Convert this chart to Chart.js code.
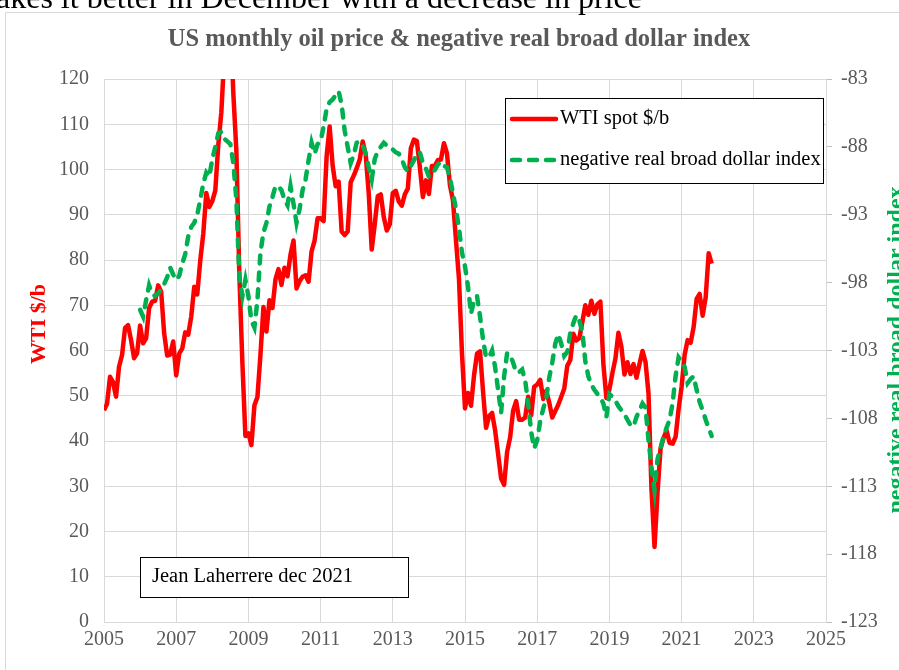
<!DOCTYPE html>
<html>
<head>
<meta charset="utf-8">
<script src="https://cdn.jsdelivr.net/npm/chart.js@4.4.1/dist/chart.umd.min.js"></script>
<style>
  html, body { margin: 0; padding: 0; background: #fff; }
  canvas { display: block; }
</style>
</head>
<body>
<canvas id="oilChart" width="899" height="670"></canvas>
<script>
// WTI spot, monthly average $/b, Jan 2005 .. Nov 2021
const wtiStart = 2005;
const wtiPrice = [
  46.8, 48.2, 54.2, 53.0, 49.8, 56.4, 59.0, 65.0, 65.6, 62.3, 58.3, 59.4,
  65.5, 61.6, 62.7, 69.4, 70.8, 71.0, 74.4, 73.0, 63.8, 58.9, 59.1, 62.0,
  54.5, 59.3, 60.4, 64.0, 63.5, 67.5, 74.1, 72.4, 79.9, 85.8, 94.8, 91.7,
  93.0, 95.4, 105.5, 112.6, 125.4, 133.9, 133.4, 116.7, 104.1, 76.6, 57.3, 41.1,
  41.7, 39.1, 47.9, 49.7, 59.0, 69.6, 64.2, 71.1, 69.4, 75.7, 78.0, 74.5,
  78.3, 76.4, 81.2, 84.3, 73.7, 75.3, 76.3, 76.6, 75.2, 81.9, 84.3, 89.2,
  89.2, 88.6, 102.9, 109.5, 100.9, 96.3, 97.3, 86.3, 85.5, 86.3, 97.2, 98.6,
  100.3, 102.2, 106.2, 103.3, 94.7, 82.3, 87.9, 94.1, 94.5, 89.5, 86.5, 87.9,
  94.8, 95.3, 92.9, 92.0, 94.5, 95.8, 104.7, 106.6, 106.3, 100.5, 93.9, 97.6,
  94.6, 100.8, 100.8, 102.1, 102.2, 105.8, 103.6, 96.5, 93.2, 84.4, 75.8, 59.3,
  47.2, 50.6, 47.8, 54.5, 59.3, 59.8, 50.9, 42.9, 45.5, 46.2, 42.4, 37.2,
  31.7, 30.3, 37.6, 40.8, 46.7, 48.8, 44.7, 44.7, 45.2, 49.8, 45.7, 52.0,
  52.5, 53.5, 49.3, 51.1, 48.5, 45.2, 46.6, 48.0, 49.8, 51.6, 56.6, 57.9,
  63.7, 62.2, 62.7, 66.3, 70.0, 67.9, 71.0, 68.1, 70.2, 70.8, 57.0, 49.5,
  51.4, 55.0, 58.2, 63.9, 60.8, 54.7, 57.4, 54.8, 57.0, 54.0, 57.0, 59.9,
  57.5, 50.5, 29.2, 16.6, 28.6, 38.3, 40.7, 42.3, 39.6, 39.4, 40.9, 47.0,
  52.0, 59.0, 62.3, 61.7, 65.2, 71.4, 72.5, 67.7, 71.7, 81.5, 79.2
];

// negative real broad dollar index, monthly, Jan 2006 .. Nov 2021
const dollarStart = 2006;
const negDollarIndex = [
  -100.0, -100.5, -99.3, -98.2, -98.8, -99.0, -98.8, -98.5, -98.1, -97.6, -96.9, -97.4,
  -97.8, -97.5, -96.6, -95.9, -94.6, -93.9, -93.6, -93.0, -91.9, -90.7, -89.9, -90.2,
  -88.9, -88.0, -87.0, -86.9, -87.4, -87.6, -87.8, -89.2, -91.9, -97.6, -99.0, -97.8,
  -99.0, -100.8, -101.3, -99.3, -95.8, -94.3, -93.6, -92.4, -91.7, -90.9, -90.9, -91.2,
  -91.9, -92.3, -90.9, -92.2, -93.6, -92.6, -91.2, -90.4, -89.0, -87.7, -88.5, -87.8,
  -87.6, -86.5, -85.2, -84.7, -84.5, -84.2, -83.9, -84.9, -86.8, -88.0, -89.2, -88.6,
  -87.7, -87.6, -87.9, -88.5, -89.5, -90.4, -88.9, -88.3, -88.0, -87.7, -87.9, -88.1,
  -88.2, -88.4, -88.5, -88.9, -89.5, -89.8, -89.4, -89.0, -88.5, -88.4, -89.2, -89.6,
  -90.2, -89.9, -89.7, -89.3, -89.1, -89.4, -89.5, -90.3, -91.4, -92.6, -94.0, -95.8,
  -96.8, -98.3, -100.3, -99.3, -99.0, -100.5, -102.2, -103.5, -103.5, -103.0, -104.2, -105.9,
  -107.6, -104.9, -103.2, -103.3, -103.9, -104.6, -104.6, -104.4, -105.2, -106.9, -109.0, -110.2,
  -109.6, -108.2, -107.3, -106.5, -105.0, -103.9, -102.5, -101.8, -102.5, -103.4, -103.1, -101.7,
  -101.0, -100.4, -100.8, -101.6, -103.8, -104.9, -105.5, -105.9, -106.2, -106.5, -106.9, -107.9,
  -106.2, -106.4, -106.7, -107.1, -107.4, -107.7, -108.1, -108.5, -108.6, -107.9, -107.4, -106.9,
  -107.2, -109.6, -111.6, -113.3, -111.0, -110.2, -109.3, -108.7, -108.1, -106.9, -104.9, -103.5,
  -103.8, -104.2, -105.4, -105.1, -104.9, -105.9, -106.8, -107.4, -108.1, -108.7, -109.3
];

const xRange = [2005, 2025];
const xStep = 2;
const leftRange = [0, 120];
const leftStep = 10;
const rightRange = [-123, -83];
const rightStep = 5;

const seriesNames = ['WTI spot $/b', 'negative real broad dollar index'];
const chartTitle = 'US monthly oil price & negative real broad dollar index';
const leftTitle = 'WTI $/b';
const rightTitle = 'negative real broad dollar index';
const noteText = 'Jean Laherrere dec 2021';
const pageText = 'akes it better in December with a decrease in price';

const RED = '#ff0000';
const GREEN = '#00b050';
const GREY = '#595959';
const GRID = '#d9d9d9';
const SERIF = '"Liberation Serif", "Times New Roman", serif';

function monthly(start, values) {
  return values.map((v, i) => ({ x: start + i / 12, y: v }));
}

const decor = {
  id: 'decor',
  beforeDraw(chart) {
    const ctx = chart.ctx;
    ctx.save();
    ctx.fillStyle = '#fff';
    ctx.fillRect(0, 0, chart.width, chart.height);
    // frame of the pasted chart
    ctx.strokeStyle = GRID;
    ctx.lineWidth = 1;
    ctx.beginPath();
    ctx.moveTo(5.5, chart.height);
    ctx.lineTo(5.5, 12.5);
    ctx.lineTo(chart.width, 12.5);
    ctx.stroke();
    // cut-off text of the page above
    ctx.fillStyle = '#000';
    ctx.font = '32px ' + SERIF;
    ctx.textBaseline = 'alphabetic';
    ctx.textAlign = 'left';
    ctx.fillText(pageText, -4, 8);
    ctx.restore();
  },
  afterDraw(chart) {
    const ctx = chart.ctx;
    ctx.save();
    // title
    ctx.fillStyle = GREY;
    ctx.font = 'bold 24.5px ' + SERIF;
    ctx.textAlign = 'center';
    ctx.textBaseline = 'middle';
    ctx.fillText(chartTitle, 459, 40);

    // axis titles
    ctx.font = 'bold 22px ' + SERIF;
    ctx.fillStyle = RED;
    ctx.save();
    ctx.translate(39, 324);
    ctx.rotate(-Math.PI / 2);
    ctx.fillText(leftTitle, 0, 0);
    ctx.restore();
    ctx.font = 'bold 24px ' + SERIF;
    ctx.fillStyle = GREEN;
    ctx.save();
    ctx.translate(897, 350);
    ctx.rotate(-Math.PI / 2);
    ctx.fillText(rightTitle, 0, 0);
    ctx.restore();

    // legend box
    ctx.fillStyle = '#fff';
    ctx.fillRect(505, 98, 318, 85);
    ctx.strokeStyle = '#000';
    ctx.lineWidth = 1;
    ctx.strokeRect(505.5, 98.5, 318, 85);
    ctx.lineCap = 'round';
    ctx.lineWidth = 4.5;
    ctx.strokeStyle = RED;
    ctx.beginPath();
    ctx.moveTo(512, 119);
    ctx.lineTo(556, 119);
    ctx.stroke();
    ctx.strokeStyle = GREEN;
    ctx.setLineDash([8, 9]);
    ctx.beginPath();
    ctx.moveTo(512, 160);
    ctx.lineTo(556, 160);
    ctx.stroke();
    ctx.setLineDash([]);
    ctx.fillStyle = '#000';
    ctx.font = '20.5px ' + SERIF;
    ctx.textAlign = 'left';
    ctx.fillText(seriesNames[0], 560, 119);
    ctx.fillText(seriesNames[1], 560, 160);

    // note box
    ctx.fillStyle = '#fff';
    ctx.fillRect(140, 557, 268, 40);
    ctx.lineWidth = 1;
    ctx.strokeStyle = '#000';
    ctx.strokeRect(140.5, 557.5, 268, 40);
    ctx.fillStyle = '#000';
    ctx.fillText(noteText, 152, 577);
    ctx.restore();
  }
};

const tickFont = { family: SERIF, size: 20 };

new Chart(document.getElementById('oilChart'), {
  type: 'line',
  data: {
    datasets: [
      {
        label: seriesNames[0],
        data: monthly(wtiStart, wtiPrice),
        yAxisID: 'y',
        borderColor: RED,
        backgroundColor: RED,
        borderWidth: 4.5,
        pointRadius: 0,
        tension: 0,
        borderJoinStyle: 'round',
        order: 1
      },
      {
        label: seriesNames[1],
        data: monthly(dollarStart, negDollarIndex),
        yAxisID: 'y2',
        borderColor: GREEN,
        backgroundColor: GREEN,
        borderWidth: 4.5,
        borderDash: [8, 9],
        borderCapStyle: 'round',
        pointRadius: 0,
        tension: 0,
        order: 0
      }
    ]
  },
  options: {
    responsive: false,
    animation: false,
    devicePixelRatio: 1,
    layout: { padding: { top: 79, left: 0, right: 0, bottom: 0 } },
    plugins: {
      legend: { display: false },
      title: { display: false },
      tooltip: { enabled: false }
    },
    scales: {
      x: {
        type: 'linear',
        min: xRange[0],
        max: xRange[1],
        afterFit: s => { s.height = 48; },
        ticks: {
          stepSize: xStep,
          color: GREY,
          font: tickFont,
          padding: 6,
          maxRotation: 0,
          callback: v => String(v)
        },
        grid: { color: GRID, lineWidth: 1, drawTicks: false },
        border: { color: GRID }
      },
      y: {
        position: 'left',
        min: leftRange[0],
        max: leftRange[1],
        afterFit: s => { s.width = 104; },
        ticks: { stepSize: leftStep, color: GREY, font: tickFont, padding: 15 },
        grid: { color: GRID, lineWidth: 1, drawTicks: false },
        border: { color: GRID }
      },
      y2: {
        position: 'right',
        min: rightRange[0],
        max: rightRange[1],
        afterFit: s => { s.width = 73; },
        ticks: { stepSize: rightStep, color: GREY, font: tickFont, padding: 9 },
        grid: { drawOnChartArea: false, color: '#bfbfbf', tickLength: 6 },
        border: { color: GRID }
      }
    }
  },
  plugins: [decor]
});
</script>
</body>
</html>
